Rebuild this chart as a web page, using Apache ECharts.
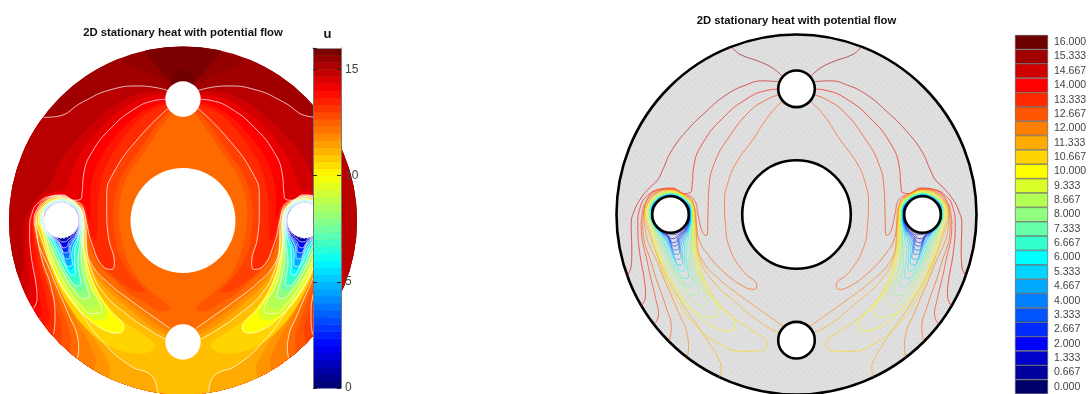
<!DOCTYPE html>
<html>
<head>
<meta charset="utf-8">
<title>2D stationary heat with potential flow</title>
<style>
    html, body { margin: 0; padding: 0; background: #fff; overflow: hidden; }
    #chart { width: 1090px; height: 394px; }
</style>
<script src="https://cdn.jsdelivr.net/npm/echarts@6/dist/echarts.min.js"></script>
</head>
<body>
<div id="chart"></div>
<script>
// colour bar, top to bottom
const barLabels = ['16.000','15.333','14.667','14.000','13.333','12.667','12.000','11.333','10.667','10.000','9.333','8.667','8.000','7.333','6.667','6.000','5.333','4.667','4.000','3.333','2.667','2.000','1.333','0.667','0.000'];
const barColors = ['#6f0000','#a00000','#d00000','#ff0000','#ff2a00','#ff5500','#ff7f00','#ffaa00','#ffd400','#ffff00','#d9ff2b','#b4ff55','#90ff80','#66ffaa','#33ffcc','#00ffff','#00d4ff','#00aaff','#0080ff','#0055ff','#002bff','#0000ff','#0000cc','#00009c','#00006b'];

// disc and holes: x, y, radius (disc radius is 180 units)
const disc = [0, 0, 180];
const holes = [[0, 0, 54.3], [0, 126, 18.3], [-126, 0, 18.3], [126, 0, 18.3], [0, -126, 18.3]];

// iso-lines of u, left half only. The right half is the mirror image.
const c15_333 = [[-14.7,139],[-23.7,146.7],[-37,153.3],[-55.3,160],[-62,165],[-65.3,168.3]];
const c15 = [[-15.2,134.7],[-44.5,139.6],[-75.5,135.5],[-103,123.4],[-130.6,107.9],[-144,107]];
const c14_667 = [[-18.7,133.3],[-33.7,134],[-50.3,130],[-70.3,120],[-90.3,103.3],[-110.3,83.3],[-125.3,63.3],[-133.7,45],[-138.7,35],[-147,26.7],[-155.3,16.7],[-162,4.3],[-165.3,-10],[-164.7,-36.7],[-165.3,-51.7],[-169.7,-61.7]];
const c14_333 = [[-18.7,130],[-32,129.5],[-50,123],[-72,108],[-92,88],[-108,66],[-117,44],[-122,32],[-135,29],[-150,21],[-158,8],[-161,-8],[-161,-40],[-159,-65],[-159,-78],[-162,-79]];
const c14 = [[-18.7,125.7],[-30.3,124.3],[-50.3,115.7],[-73.7,96.7],[-93.7,71.7],[-102.7,48.3],[-104.3,30],[-106,22],[-113.7,21],[-124,26.5],[-138,25],[-150,18],[-156,8],[-158.7,-10],[-157,-36.7],[-152,-66.7],[-151,-81.7],[-155.3,-91.7]];
const c13_667 = [[-18.5,122],[-30,119],[-48,109],[-70,87],[-88,60],[-95,36],[-96,15],[-96,4],[-98,3],[-100,8],[-103,17],[-112,20.8],[-126,26.5],[-138,24.5],[-150,14],[-156,3],[-157,-10],[-154,-52],[-148,-82],[-146,-97],[-150,-100]];
const c13_333 = [[-17.7,120],[-30.3,115],[-47,103.3],[-67,78.3],[-82,51.7],[-87.7,25],[-88.3,11],[-88.7,-5.7],[-89,-19],[-90.3,-21],[-93,-19],[-95.3,-14],[-98.7,1],[-102,14.3],[-112,20.5],[-126,26],[-141,23.5],[-151,12],[-154.5,0],[-155.3,-10],[-148.7,-50],[-140.3,-86.7],[-138,-100],[-142,-110]];
const c13 = [[-15.2,116.5],[-44.5,87.2],[-72,49.3],[-78.9,25.2],[-78.9,10.7],[-77.2,-16.9],[-71,-44.5],[-73.8,-50.7],[-81.7,-48.6],[-94.4,-23.8],[-100.3,0.3],[-104.8,15.8],[-112,20],[-126,25.7],[-141,23],[-151,11.5],[-154,0],[-152.3,-9.3],[-146,-40],[-135.8,-71.3],[-132.4,-102.4],[-134,-118]];
const c12_667 = [[-14.3,113.3],[-27,100],[-43.7,75],[-60.3,51.7],[-68.7,31.7],[-72,11],[-71,-10],[-67,-33.3],[-53.7,-56.7],[-39.7,-71.7],[-42,-75],[-53.7,-71.7],[-73.7,-56.7],[-88.7,-40],[-97,-26.7],[-100.3,-10],[-103.7,12.7],[-112,19.5],[-126,25.3],[-141,22],[-151,11],[-153,0],[-153.7,-10],[-143.7,-53.3],[-130.3,-93.3],[-125.3,-113.3],[-127,-126.7]];
const c12_333 = [[-12,111],[-24,95],[-42,68],[-57,46],[-64,25],[-66,5],[-64,-15],[-58,-38],[-48,-58],[-30,-76],[-15,-88],[-14,-93],[-26,-94],[-42,-83],[-53,-78],[-72,-61],[-88,-45],[-96,-26],[-100.2,-4],[-103.7,12],[-112,19],[-126,25],[-141,21.5],[-151,10.5],[-152.8,0],[-152.8,-10],[-140,-53.3],[-124,-95],[-116,-120],[-117,-138]];
const c12 = [[-13.7,-111.7],[-30.3,-100],[-53.7,-83.3],[-77,-65],[-93.7,-46.7],[-99.7,-26.7],[-100.3,-5.7],[-103.7,11],[-112,18.5],[-126,24.8],[-141,21],[-150,10],[-152.5,0],[-152,-10],[-137,-53.3],[-118.7,-96.7],[-108.7,-123.3],[-108,-133.3],[-109.3,-142.7]];
const c11_667 = [[-16,-115],[-32,-105],[-57,-85.8],[-80,-65.8],[-95,-45],[-100,-26],[-100.8,-7],[-104,10],[-112,18],[-126,24.6],[-140.8,20.7],[-149.8,9.8],[-152.2,0],[-151,-10],[-135.3,-53.3],[-116,-93],[-98,-125],[-90,-145],[-92,-155]];
const c11_333 = [[-17.7,-118.3],[-33.7,-110],[-60.3,-88.3],[-83.7,-66.7],[-97,-43.3],[-100.5,-20],[-101.3,-9],[-104.3,9.3],[-112,17.5],[-126,24.4],[-140.5,20.5],[-149.5,9.5],[-152,0],[-150.3,-10],[-133.7,-53.3],[-113.7,-90],[-88.7,-126.7],[-77,-146.7],[-75.3,-155],[-77,-163.3]];
const c11 = [[-17.9,-123],[-30.7,-116.2],[-58.2,-97.2],[-82.4,-74.8],[-96.2,-47.2],[-100.8,-22],[-101.5,-9.5],[-104.5,9],[-112,17],[-126,24.2],[-140.5,20],[-149,9],[-151.5,0],[-149.6,-10],[-132,-55],[-108.2,-92],[-82.4,-126.5],[-54.8,-150.6],[-32.4,-161],[-26.6,-178]];
const c10_667 = [[-29.3,-131.7],[-30.3,-126.7],[-43.7,-116.7],[-67,-100],[-88.7,-73.3],[-98.7,-43.3],[-102,-20],[-102.5,0],[-109,17],[-126,24],[-143,17],[-151,0],[-148.7,-10],[-133.7,-56.7],[-117,-90],[-98.7,-113.3],[-77,-130],[-53.7,-137.3],[-37,-136.7]];
const c10 = [[-61.3,-111.7],[-63.7,-105],[-77,-91.7],[-92,-66.7],[-100.3,-40],[-103,-16.7],[-103,0],[-109.7,16.3],[-126,23],[-142.3,16.3],[-149.5,0],[-146.3,-10],[-135.3,-46.7],[-120.3,-76.7],[-100.3,-100],[-80.3,-114],[-67,-116.7]];
const c9_333 = [[-78,-98.3],[-80.3,-90],[-90.3,-75],[-98.7,-53.3],[-103,-30],[-103.5,0],[-110,16],[-126,22.5],[-142,16],[-148.5,0],[-144.7,-10],[-137,-38.3],[-122,-70],[-107,-91.7],[-93.7,-101.7],[-83.7,-103.3]];
const c9 = [[-84,-94],[-86,-85],[-95,-69],[-101,-47],[-103.7,-10],[-103.7,0],[-110.2,15.8],[-126,22.2],[-141.8,15.8],[-148,0],[-144.3,-10],[-136,-37],[-121,-68],[-106,-88],[-94,-96.5]];
const c8_667 = [[-89.3,-87.7],[-91,-80],[-98.7,-63.3],[-103.7,-40],[-104,0],[-110.4,15.6],[-126,22],[-141.6,15.6],[-147.5,0],[-144,-10],[-135.3,-35],[-120.3,-65],[-105.3,-85],[-95.3,-91.7]];
const c8 = [[-97,-78.3],[-98.7,-71.7],[-103,-53.3],[-105.3,-36.7],[-104.4,0],[-110.7,15.3],[-126,21.6],[-141.3,15.3],[-147,0],[-143.6,-10],[-134.5,-32],[-123.7,-55],[-112,-73.3],[-102,-81]];
const c7_333 = [[-103,-70],[-104.3,-63.3],[-107,-46.7],[-106,-25],[-104.8,0],[-111,15],[-126,21.2],[-141,15],[-146.5,0],[-143.3,-10],[-134,-29],[-125.3,-48.3],[-115.3,-65],[-107,-72.3]];
const c7 = [[-105.5,-66.3],[-106.5,-59],[-108.5,-43],[-106.5,-22],[-105,0],[-111.2,14.8],[-126,21],[-140.8,14.8],[-146.2,0],[-143.1,-10],[-134,-27],[-126,-45],[-117,-61],[-109.5,-68]];
const c6_667 = [[-108,-62.7],[-108.7,-55],[-110.3,-40],[-107.5,-20],[-105.2,0],[-111.3,14.7],[-126,20.8],[-140.7,14.7],[-146,0],[-143,-10],[-134,-25],[-127,-41.7],[-118.7,-56.7],[-112,-64.3]];
const c6 = [[-111.3,-54.3],[-112,-46.7],[-112,-33],[-108,-18],[-105.6,0],[-111.6,14.4],[-126,20.4],[-140.4,14.4],[-145.6,0],[-142.8,-10],[-134,-22],[-127.7,-35],[-120.3,-49.3],[-114.7,-56.7]];
const c5_333 = [[-113.7,-48.3],[-114.3,-40],[-113,-28],[-108.2,-16],[-105.9,0],[-111.8,14.2],[-126,20.1],[-140.2,14.2],[-145.3,0],[-142.6,-10],[-134.5,-20],[-128,-30],[-122,-44],[-117.7,-50.7]];
const c5 = [[-114.5,-45.8],[-115,-37.5],[-113.5,-27],[-108.3,-15.5],[-106,0],[-111.9,14.1],[-126,20],[-140.1,14.1],[-145.1,0],[-142.5,-10],[-134.2,-19.7],[-128.2,-28.5],[-123,-41],[-118.7,-47.8]];
const c4_667 = [[-115.3,-43.3],[-116,-35],[-114,-26],[-108.5,-15],[-106.2,0],[-112,14],[-126,19.8],[-140,14],[-145,0],[-142.4,-10],[-134,-19.5],[-128.5,-27],[-124,-38],[-119.7,-45]];
const c4 = [[-117,-38.3],[-116.8,-30],[-114.5,-23],[-109,-14.5],[-106.5,0],[-112.2,13.8],[-126,19.5],[-139.8,13.8],[-144.9,0],[-142.2,-10],[-134,-19],[-128.5,-24],[-125,-33],[-121,-40]];
const c3_333 = [[-117.7,-34],[-117.5,-27],[-115,-22],[-109.5,-14],[-106.8,0],[-112.4,13.6],[-126,19.2],[-139.6,13.6],[-144.7,0],[-142,-10],[-134,-18.5],[-129,-22.5],[-126,-29],[-122,-35.7]];
const c3 = [[-118.2,-32],[-117.8,-26],[-115.2,-21.5],[-109.7,-14],[-106.9,0],[-112.5,13.5],[-126,19.1],[-139.5,13.5],[-144.65,0],[-141.9,-10],[-134,-18.2],[-129.2,-21.7],[-126.2,-27.5],[-122.3,-33.7]];
const c2_667 = [[-118.7,-30],[-118,-25],[-115.5,-21],[-110,-14],[-107,0],[-112.6,13.4],[-126,19],[-139.4,13.4],[-144.6,0],[-141.8,-10],[-134,-18],[-129.5,-21],[-126.5,-26],[-122.7,-31.7]];
const c2 = [[-119.7,-26.7],[-118.5,-23],[-116,-20],[-110.5,-13.5],[-107.2,0],[-112.7,13.3],[-126,18.8],[-139.3,13.3],[-144.5,0],[-141.6,-10],[-134,-17.5],[-130,-20],[-127,-24],[-123.7,-28.3]];
const c1_333 = [[-120.3,-23.3],[-119,-21],[-116.5,-19],[-111.5,-13],[-107.4,0],[-112.8,13.2],[-126,18.6],[-139.2,13.2],[-144.4,0],[-141.5,-10],[-134,-17],[-130,-19],[-127.5,-22],[-124.7,-24.3]];
const c1 = [[-120.6,-21.7],[-119.3,-20],[-116.7,-18.2],[-112,-12.7],[-107.5,0],[-112.9,13.1],[-126,18.5],[-139.1,13.1],[-144.35,0],[-141.45,-10],[-134,-16.9],[-130,-18.5],[-127.5,-20.7],[-125,-22.2]];
const c0_667 = [[-121,-20],[-119.5,-19],[-117,-17.5],[-112.5,-12.5],[-107.6,0],[-113,13],[-126,18.4],[-139,13],[-144.3,0],[-141.4,-10],[-134,-16.8],[-130,-18],[-127.5,-19.5],[-125.3,-20]];

// darker patches above the top hole
const topFan = [[-10,141],[-37.5,173.5],[-45,200],[45,200],[37.5,173.5],[10,141]];
const topBlob = [[-9.3,140],[-9,150],[0,157],[9,150],[9.3,140],[0,130]];

// which lines each panel shows, highest first
const leftLines = [[15,c15],[14,c14],[13,c13],[12,c12],[11,c11],[10,c10],[9,c9],[8,c8],[7,c7],[6,c6],[5,c5],[4,c4],[3,c3],[2,c2],[1,c1]];
const rightLines = [[15.333,c15_333],[14.667,c14_667],[14,c14],[13.333,c13_333],[12.667,c12_667],[12,c12],[11.333,c11_333],[10.667,c10_667],[10,c10],[9.333,c9_333],[8.667,c8_667],[8,c8],[7.333,c7_333],[6.667,c6_667],[6,c6],[5.333,c5_333],[4.667,c4_667],[4,c4],[3.333,c3_333],[2.667,c2_667],[2,c2],[1.333,c1_333],[0.667,c0_667]];
// filled bands are painted as {u < level}, highest first
const fillLines = [[15.333,c15_333],[15,c15],[14.667,c14_667],[14.333,c14_333],[14,c14],[13.667,c13_667],[13.333,c13_333],[13,c13],[12.667,c12_667],[12.333,c12_333],[12,c12],[11.667,c11_667],[11.333,c11_333],[11,c11],[10.667,c10_667],[10,c10],[9.333,c9_333],[9,c9],[8.667,c8_667],[8,c8],[7.333,c7_333],[7,c7],[6.667,c6_667],[6,c6],[5.333,c5_333],[5,c5],[4.667,c4_667],[4,c4],[3.333,c3_333],[3,c3],[2.667,c2_667],[2,c2],[1.333,c1_333],[1,c1],[0.667,c0_667]];

const CLOSED_BELOW = 10.7;      // from here down the lines are loops round the side hole
const FONT = '"Liberation Sans", Arial, sans-serif';

// u -> colour
function colorOf(u) {
    let pos = (16 - u) / 16 * (barColors.length - 1);
    pos = Math.max(0, Math.min(barColors.length - 1.001, pos));
    let i = Math.floor(pos), t = pos - i;
    let a = parseInt(barColors[i].slice(1), 16), b = parseInt(barColors[i + 1].slice(1), 16);
    let mix = s => Math.round(((a >> s) & 255) * (1 - t) + ((b >> s) & 255) * t);
    return `rgb(${mix(16)},${mix(8)},${mix(0)})`;
}

function mirror(pts) {
    return pts.map(p => [-p[0], p[1]]);
}

// start the loop at its highest point, so the seam is not on the finger tip
function closeLoop(pts) {
    let top = 0;
    pts.forEach((p, i) => { if (p[1] > pts[top][1]) top = i; });
    let loop = pts.slice(top).concat(pts.slice(0, top));
    loop.push(loop[0]);
    return loop;
}

// Catmull-Rom through pixel points, only used for the outlines of the fills
function spline(pts, closed) {
    let out = [], n = pts.length;
    let at = i => closed ? pts[(i + n) % n] : pts[Math.max(0, Math.min(n - 1, i))];
    let last = closed ? n : n - 1;
    for (let i = 0; i < last; i++) {
        let p0 = at(i - 1), p1 = at(i), p2 = at(i + 1), p3 = at(i + 2);
        for (let k = 0; k < 8; k++) {
            let t = k / 8, t2 = t * t, t3 = t2 * t;
            out.push([0, 1].map(d => 0.5 * (2 * p1[d] + (p2[d] - p0[d]) * t
                + (2 * p0[d] - 5 * p1[d] + 4 * p2[d] - p3[d]) * t2
                + (3 * p1[d] - p0[d] - 3 * p2[d] + p3[d]) * t3)));
        }
    }
    if (!closed) out.push(pts[n - 1]);
    return out;
}

function radiusPx(api, r) {
    return api.size([r, 0])[0];
}

function discClip(api) {
    let c = api.coord([disc[0], disc[1]]);
    return { type: 'circle', shape: { cx: c[0], cy: c[1], r: radiusPx(api, disc[2]) } };
}

function polygonEl(api, points, fill) {
    return { type: 'polygon', shape: { points }, style: { fill, stroke: fill, lineWidth: 0.5 }, clipPath: discClip(api) };
}

// one filled band item for the left panel
function renderFill(params, api) {
    let i = api.value(0);
    let toPx = pts => pts.map(p => api.coord(p));

    if (i === -2) {
        let c = api.coord([disc[0], disc[1]]);
        return { type: 'circle', shape: { cx: c[0], cy: c[1], r: radiusPx(api, disc[2]) }, style: { fill: colorOf(15.5) } };
    }
    if (i === -1) {
        return { type: 'group', children: [
            polygonEl(api, spline(toPx(topFan), false), colorOf(15.83)),
            polygonEl(api, spline(toPx(topBlob), true), barColors[0])
        ] };
    }

    let level = fillLines[i][0], pts = fillLines[i][1];
    let color = colorOf(level);

    if (level < CLOSED_BELOW) {
        return { type: 'group', children: [pts, mirror(pts)].map(loop =>
            polygonEl(api, spline(toPx(loop), true), color)) };
    }
    // open line: join it to its mirror image round the outside of the disc
    let end = pts[pts.length - 1];
    let out = [end[0] * 1.3, end[1] * 1.3];
    let away = [[out[0], out[1]], [-300, out[1]], [-300, -300], [300, -300], [300, out[1]], [-out[0], out[1]]];
    let outline = spline(toPx(pts), false)
        .concat(toPx(away))
        .concat(spline(toPx(mirror(pts).reverse()), false));
    return polygonEl(api, outline, color);
}

function renderHole(style) {
    return function (params, api) {
        let c = api.coord([api.value(0), api.value(1)]);
        return { type: 'circle', shape: { cx: c[0], cy: c[1], r: radiusPx(api, api.value(2)) }, style };
    };
}

// mesh look of the right panel
function meshPattern() {
    let cv = document.createElement('canvas');
    cv.width = 6; cv.height = 6;
    let g = cv.getContext('2d');
    g.fillStyle = '#dcdcdc';
    g.fillRect(0, 0, 6, 6);
    g.fillStyle = '#e5e5e5';
    [[0, 0], [3, 0], [1, 2], [4, 2], [0, 4], [3, 4], [2, 5], [5, 3]].forEach(p => g.fillRect(p[0], p[1], 1, 1));
    return { image: cv, repeat: 'repeat' };
}

function lineSeries(level, pts, axis, color, width, opacity) {
    let closed = level < CLOSED_BELOW;
    return [pts, mirror(pts)].map(half => ({
        type: 'line',
        xAxisIndex: axis, yAxisIndex: axis,
        data: closed ? closeLoop(half) : half,
        smooth: 0.5,
        showSymbol: false,
        symbol: 'none',
        silent: true,
        animation: false,
        clip: false,
        z: 3,
        lineStyle: { color, width, opacity }
    }));
}

let chart = echarts.init(document.getElementById('chart'), null, { renderer: 'canvas' });

let series = [];

// ---------- left panel
series.push({
    type: 'custom', xAxisIndex: 0, yAxisIndex: 0, coordinateSystem: 'cartesian2d',
    data: [[-2], [-1]].concat(fillLines.map((l, i) => [i])),
    renderItem: renderFill, silent: true, animation: false, clip: false, z: 2
});
leftLines.forEach(l => { series = series.concat(lineSeries(l[0], l[1], 0, '#ffffff', 1, 0.72)); });
series.push({
    type: 'custom', xAxisIndex: 0, yAxisIndex: 0, coordinateSystem: 'cartesian2d',
    data: [holes[2], holes[3]],
    renderItem: (params, api) => {
        let c = api.coord([api.value(0), api.value(1)]);
        return { type: 'circle', shape: { cx: c[0], cy: c[1], r: radiusPx(api, api.value(2) + 0.4) },
            style: { fill: null, stroke: '#c3ccf2', lineWidth: 1, lineDash: [1.5, 2] } };
    },
    silent: true, animation: false, clip: false, z: 5
});
series.push({
    type: 'custom', xAxisIndex: 0, yAxisIndex: 0, coordinateSystem: 'cartesian2d',
    data: holes, renderItem: renderHole({ fill: '#fff' }), silent: true, animation: false, clip: false, z: 4
});

// ---------- right panel
series.push({
    type: 'custom', xAxisIndex: 1, yAxisIndex: 1, coordinateSystem: 'cartesian2d',
    data: [disc], renderItem: renderHole({ fill: meshPattern(), stroke: '#000', lineWidth: 2.6 }),
    silent: true, animation: false, clip: false, z: 2
});
rightLines.forEach(l => { series = series.concat(lineSeries(l[0], l[1], 1, colorOf(l[0]), 0.9, 0.68)); });
series.push({
    type: 'custom', xAxisIndex: 1, yAxisIndex: 1, coordinateSystem: 'cartesian2d',
    data: holes, renderItem: renderHole({ fill: '#fff', stroke: '#000', lineWidth: 2.6 }),
    silent: true, animation: false, clip: false, z: 4
});

// ---------- left colour bar, steps of 1/3
let barSteps = [];
for (let i = 0; i < 48; i++) barSteps.push([i / 3, (i + 1) / 3]);
series.push({
    type: 'custom', xAxisIndex: 2, yAxisIndex: 2, coordinateSystem: 'cartesian2d',
    data: barSteps,
    renderItem: (params, api) => {
        let lo = api.value(0), hi = api.value(1);
        let a = api.coord([0, hi]), b = api.coord([1, lo]);
        return { type: 'rect', shape: { x: a[0], y: a[1], width: b[0] - a[0], height: b[1] - a[1] + 0.5 },
            style: { fill: colorOf((lo + hi) / 2) } };
    },
    encode: { x: -1, y: [0, 1] },
    silent: true, animation: false, clip: false, z: 6
});

// ---------- right colour bar
series.push({
    type: 'bar', xAxisIndex: 3, yAxisIndex: 4,
    data: barColors.map(c => ({ value: 1, itemStyle: { color: c, borderColor: '#555', borderWidth: 0.6 } })),
    barWidth: '100%', silent: true, animation: false, z: 5
});

function hiddenValueAxis(grid) {
    return { type: 'value', gridIndex: grid, min: -180, max: 180, show: false };
}

chart.setOption({
    animation: false,
    backgroundColor: '#fff',
    textStyle: { fontFamily: FONT },
    title: [
        { text: '2D stationary heat with potential flow', left: 178, top: 22, textAlign: 'center',
          textStyle: { fontFamily: FONT, fontSize: 11.3, fontWeight: 'bold', color: '#111' } },
        { text: '2D stationary heat with potential flow', left: 791.5, top: 10, textAlign: 'center',
          textStyle: { fontFamily: FONT, fontSize: 11.3, fontWeight: 'bold', color: '#111' } },
        { text: 'u', left: 322.5, top: 23, textAlign: 'center',
          textStyle: { fontFamily: FONT, fontSize: 13, fontWeight: 'bold', color: '#111' } }
    ],
    grid: [
        { left: 9, top: 47, width: 348, height: 348 },
        { left: 616.5, top: 35, width: 360, height: 360 },
        { left: 313, top: 48, width: 28, height: 347 },
        { left: 1015, top: 35, width: 33, height: 360 }
    ],
    xAxis: [
        hiddenValueAxis(0),
        hiddenValueAxis(1),
        { type: 'value', gridIndex: 2, min: 0, max: 1, position: 'top', z: 8,
          axisLine: { show: true, onZero: false, lineStyle: { color: '#999' } },
          axisTick: { show: false }, axisLabel: { show: false }, splitLine: { show: false } },
        { type: 'value', gridIndex: 3, min: 0, max: 1, show: false }
    ],
    yAxis: [
        hiddenValueAxis(0),
        hiddenValueAxis(1),
        { type: 'value', gridIndex: 2, min: 0, max: 16, interval: 5, position: 'left', z: 8,
          axisLine: { show: true, lineStyle: { color: '#777' } },
          axisTick: { show: true, inside: true, length: 4, lineStyle: { color: '#222' } },
          axisLabel: { show: false }, splitLine: { show: false } },
        { type: 'value', gridIndex: 2, min: 0, max: 16, interval: 5, position: 'right', z: 8,
          axisLine: { show: true, lineStyle: { color: '#777' } },
          axisTick: { show: true, inside: true, length: 4, lineStyle: { color: '#222' } },
          axisLabel: { show: true, showMaxLabel: false, inside: false, margin: 4, color: '#444', fontSize: 12, fontFamily: FONT },
          splitLine: { show: false } },
        { type: 'category', gridIndex: 3, inverse: true, position: 'right', data: barLabels,
          axisLine: { show: false }, axisTick: { show: false }, splitLine: { show: false },
          axisLabel: { margin: 6, color: '#444', fontSize: 10.5, fontFamily: FONT, interval: 0 } }
    ],
    series: series
});
</script>
</body>
</html>
